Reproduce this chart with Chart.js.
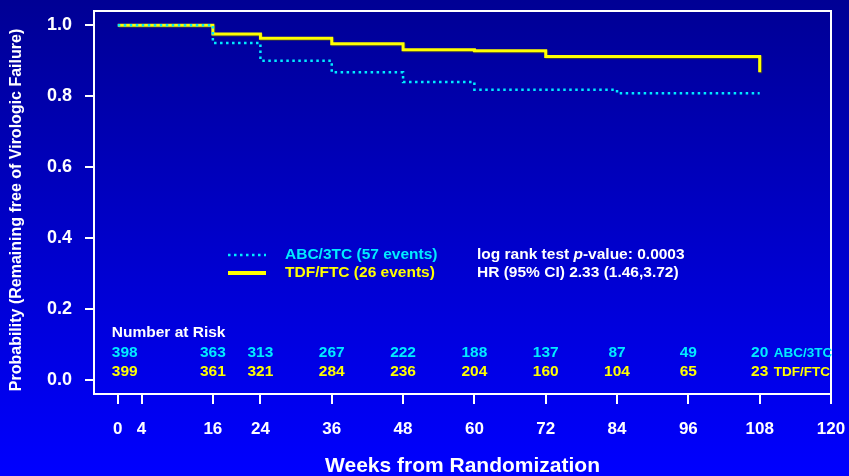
<!DOCTYPE html>
<html>
<head>
<meta charset="utf-8">
<title>Time to virologic failure</title>
<script src="https://cdn.jsdelivr.net/npm/chart.js@4/dist/chart.umd.min.js"></script>
<style>
	html, body { margin: 0; padding: 0; background: #0000ff; }
	canvas { display: block; }
</style>
</head>
<body>
<canvas id="kmChart" width="849" height="476"></canvas>
<script>
// Kaplan-Meier steps: each value holds until the next week listed
var abcWeeks = [0, 16, 24, 36, 48, 60, 84, 108];
var abcSurvival = [1.0, 0.950, 0.900, 0.867, 0.840, 0.818, 0.808, 0.808];
var tdfWeeks = [0, 16, 24, 36, 48, 60, 72, 108];
var tdfSurvival = [1.0, 0.975, 0.963, 0.948, 0.931, 0.928, 0.912, 0.867];

var xTicks = [0, 4, 16, 24, 36, 48, 60, 72, 84, 96, 108, 120];
var yTicks = [0, 0.2, 0.4, 0.6, 0.8, 1.0];

// number at risk table
var riskWeeks = [0, 16, 24, 36, 48, 60, 72, 84, 96, 108];
var abcRisk = [398, 363, 313, 267, 222, 188, 137, 87, 49, 20];
var tdfRisk = [399, 361, 321, 284, 236, 204, 160, 104, 65, 23];

var groups = ["ABC/3TC", "TDF/FTC"];
var legendText = ["ABC/3TC (57 events)", "TDF/FTC (26 events)"];
var statsText = ["log rank test ", "p", "-value: 0.0003"];
var hrText = "HR (95% CI) 2.33 (1.46,3.72)";

(function (root){
	var KM = root.KM = (root.KM || {});

	var FAMILY = "'Liberation Sans', Arial, Helvetica, sans-serif";
	var CYAN = "#00ecff", YELLOW = "#ffff00", WHITE = "#ffffff";

	KM.font = function(size, style){
		return (style || "bold") + " " + size + "px " + FAMILY;
	};

	KM.toPoints = function(weeks, values){
		var pts = [];
		for (var i = 0; i < weeks.length; i++){
			pts.push({x: weeks[i], y: values[i]});
		}
		return pts;
	};

	// blue slide background, darker at the top
	KM.backdrop = {
		id: "backdrop",
		beforeDraw: function(chart){
			var ctx = chart.ctx;
			var g = ctx.createLinearGradient(0, 0, 0, chart.height);
			g.addColorStop(0, "#000094");
			g.addColorStop(1, "#0000ff");
			ctx.save();
			ctx.fillStyle = g;
			ctx.fillRect(0, 0, chart.width, chart.height);
			ctx.restore();
		}
	};

	// thin grey drop shadow under the solid yellow curve
	KM.lineShadow = {
		id: "lineShadow",
		beforeDatasetDraw: function(chart, args){
			if (args.index !== 1) return;
			var ctx = chart.ctx;
			ctx.save();
			ctx.shadowColor = "rgba(60,60,60,0.9)";
			ctx.shadowOffsetX = 1;
			ctx.shadowOffsetY = 1;
			ctx.shadowBlur = 0;
		},
		afterDatasetDraw: function(chart, args){
			if (args.index === 1) chart.ctx.restore();
		}
	};

	KM.text = function(ctx, str, x, y, color, size, align, style){
		ctx.font = KM.font(size, style);
		ctx.fillStyle = color;
		ctx.textAlign = align || "left";
		ctx.textBaseline = "middle";
		ctx.fillText(str, x, y);
		return ctx.measureText(str).width;
	};

	KM.annotations = {
		id: "annotations",
		afterDraw: function(chart){
			var ctx = chart.ctx, a = chart.chartArea, xs = chart.scales.x;
			ctx.save();

			// full frame round the plot
			ctx.strokeStyle = WHITE;
			ctx.lineWidth = 2;
			ctx.strokeRect(a.left, a.top, a.right - a.left, a.bottom - a.top);

			// y axis title
			ctx.save();
			ctx.translate(17, 210);
			ctx.rotate(-Math.PI / 2);
			KM.text(ctx, "Probability (Remaining free of Virologic Failure)", 0, 0, WHITE, 16, "center");
			ctx.restore();

			// legend
			var lx = 228, ly = 255, gap = 18;
			ctx.lineWidth = 2.5;
			ctx.strokeStyle = CYAN;
			ctx.setLineDash([2.5, 3.5]);
			ctx.beginPath(); ctx.moveTo(lx, ly); ctx.lineTo(lx + 38, ly); ctx.stroke();
			ctx.setLineDash([]);
			ctx.lineWidth = 4;
			ctx.strokeStyle = YELLOW;
			ctx.beginPath(); ctx.moveTo(lx, ly + gap); ctx.lineTo(lx + 38, ly + gap); ctx.stroke();
			KM.text(ctx, legendText[0], lx + 57, ly, CYAN, 15.5);
			KM.text(ctx, legendText[1], lx + 57, ly + gap, YELLOW, 15.5);

			// test statistics, p in italics
			var sx = 477;
			sx += KM.text(ctx, statsText[0], sx, ly, WHITE, 15.5);
			sx += KM.text(ctx, statsText[1], sx, ly, WHITE, 15.5, "left", "italic bold");
			KM.text(ctx, statsText[2], sx, ly, WHITE, 15.5);
			KM.text(ctx, hrText, 477, ly + gap, WHITE, 15.5);

			// number at risk
			var left = xs.getPixelForValue(0) - 6;
			KM.text(ctx, "Number at Risk", left, 333, WHITE, 15.5);
			var rows = [[abcRisk, CYAN, 353], [tdfRisk, YELLOW, 372]];
			for (var r = 0; r < rows.length; r++){
				var vals = rows[r][0], col = rows[r][1], y = rows[r][2];
				for (var i = 0; i < riskWeeks.length; i++){
					if (i === 0){
						KM.text(ctx, String(vals[i]), left, y, col, 15.5);
					}
					else {
						KM.text(ctx, String(vals[i]), xs.getPixelForValue(riskWeeks[i]), y, col, 15.5, "center");
					}
				}
				KM.text(ctx, groups[r], xs.getPixelForValue(riskWeeks[riskWeeks.length - 1]) + 14, y, col, 13.5);
			}

			ctx.restore();
		}
	};

	KM.createChart = function(){
		var tickFont = function(size){ return {family: FAMILY, size: size, weight: "bold"}; };

		return new Chart(document.getElementById("kmChart"), {
			type: "line",
			data: {
				datasets: [
					{
						label: groups[0],
						data: KM.toPoints(abcWeeks, abcSurvival),
						borderColor: CYAN,
						borderWidth: 2.5,
						borderDash: [2.5, 3.5],
						stepped: true,
						pointRadius: 0,
						fill: false
					},
					{
						label: groups[1],
						data: KM.toPoints(tdfWeeks, tdfSurvival),
						borderColor: YELLOW,
						borderWidth: 3,
						stepped: true,
						pointRadius: 0,
						fill: false
					}
				]
			},
			options: {
				responsive: false,
				animation: false,
				devicePixelRatio: 1,
				layout: {padding: {top: 11, right: 18, left: 0, bottom: 0}},
				plugins: {
					legend: {display: false},
					tooltip: {enabled: false},
					title: {display: false}
				},
				scales: {
					x: {
						type: "linear",
						min: -4,
						max: 120,
						afterFit: function(s){
							s.height = 82;
							s.paddingLeft = 0;
							s.paddingRight = 0;
						},
						afterBuildTicks: function(s){
							s.ticks = xTicks.map(function(v){ return {value: v}; });
						},
						grid: {drawOnChartArea: false, drawTicks: true, tickLength: 10, color: WHITE, tickColor: WHITE, lineWidth: 2},
						border: {display: true, color: WHITE, width: 2},
						ticks: {color: WHITE, font: tickFont(17), padding: 15, maxRotation: 0, autoSkip: false},
						title: {
							display: true,
							text: "Weeks from Randomization",
							color: WHITE,
							font: {family: FAMILY, size: 21, weight: "bold", lineHeight: 0.9},
							padding: {top: 0, bottom: 0}
						}
					},
					y: {
						type: "linear",
						min: -0.04,
						max: 1.04,
						afterFit: function(s){
							s.width = 94;
							s.paddingTop = 0;
							s.paddingBottom = 0;
						},
						afterBuildTicks: function(s){
							s.ticks = yTicks.map(function(v){ return {value: v}; });
						},
						grid: {drawOnChartArea: false, drawTicks: true, tickLength: 9, color: WHITE, tickColor: WHITE, lineWidth: 2},
						border: {display: true, color: WHITE, width: 2},
						ticks: {
							color: WHITE,
							font: tickFont(18),
							padding: 13,
							callback: function(v){ return Number(v).toFixed(1); }
						}
					}
				}
			},
			plugins: [KM.backdrop, KM.lineShadow, KM.annotations]
		});
	};

})(window);

KM.createChart();
</script>
</body>
</html>
